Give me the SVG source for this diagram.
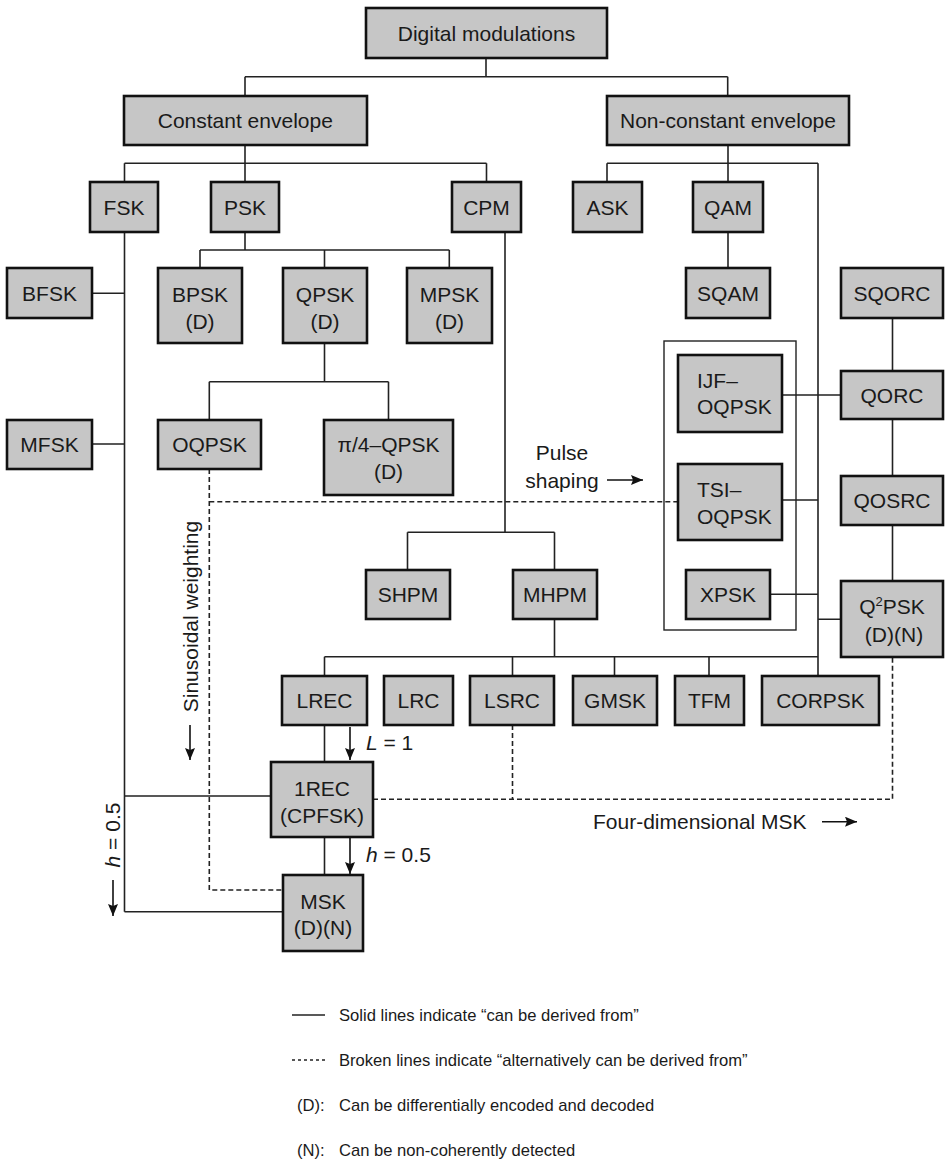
<svg xmlns="http://www.w3.org/2000/svg" width="947" height="1162" viewBox="0 0 947 1162">
<style>
  .box { fill: #c6c6c6; stroke: #111; stroke-width: 2.6; }
  .t { font-family: "Liberation Sans", Arial, sans-serif; font-size: 21px; fill: #1a1a1a; text-anchor: middle; }
  .tl { font-family: "Liberation Sans", Arial, sans-serif; font-size: 21px; fill: #1a1a1a; }
  .lg { font-family: "Liberation Sans", Arial, sans-serif; font-size: 16.6px; fill: #1a1a1a; }
  .ln { fill: none; stroke: #222; stroke-width: 1.6; }
  .dash { fill: none; stroke: #222; stroke-width: 1.6; stroke-dasharray: 5 3; }
  .arr { fill: none; stroke: #111; stroke-width: 1.6; marker-end: url(#ah); }
</style>
<defs>
  <marker id="ah" viewBox="0 0 12 10" refX="12" refY="5" markerWidth="12" markerHeight="10" markerUnits="userSpaceOnUse" orient="auto">
    <path d="M0,0 L12,5 L0,10 L2,5 z" fill="#111"/>
  </marker>
</defs>
<rect width="947" height="1162" fill="#fff"/>

<g id="connectors">
  <path class="ln" d="M486,58 V76.7 M245,76.7 H727.7 M245,76.7 V96 M727.7,76.7 V96"/>
  <path class="ln" d="M245,145 V163.3 M124.5,163.3 H486.5 M124.5,163.3 V182 M245,163.3 V182 M486.5,163.3 V182"/>
  <path class="ln" d="M728,145 V163.3 M607,163.3 H818 M607,163.3 V182 M728,163.3 V182 M818,163.3 V676"/>
  <path class="ln" d="M728,232 V268"/>
  <path class="ln" d="M124.5,232 V911.7 M92,293.3 H124.5 M92,444 H124.5 M124.5,796 H271 M124.5,911.7 H283"/>
  <path class="ln" d="M245,232 V250 M200,250 H449.3 M200,250 V268 M324.5,250 V268 M449.3,250 V268"/>
  <path class="ln" d="M324.5,343 V381.7 M209.3,381.7 H388.5 M209.3,381.7 V420 M388.5,381.7 V420"/>
  <path class="ln" d="M505,232 V532.3 M407.5,532.3 H554.5 M407.5,532.3 V570 M554.5,532.3 V570"/>
  <path class="ln" d="M892.5,318 V371 M892.5,419 V476 M892.5,525 V581"/>
  <path class="ln" d="M782,395 H841 M782,500 H818 M770,594.3 H818 M818,619.3 H841"/>
  <path class="ln" d="M554.5,619 V656.7 M324.5,656.7 H818 M324.5,656.7 V676 M512.5,656.7 V676 M614.5,656.7 V676 M709,656.7 V676"/>
  <path class="ln" d="M324.5,725 V762 M324.5,837 V875"/>
  <path class="dash" d="M209.3,469 V890 H283"/>
  <path class="dash" d="M209.3,501.7 H678"/>
  <path class="dash" d="M512.5,725 V799.3"/>
  <path class="dash" d="M373,799.3 H892.5 V657"/>
  <path class="arr" d="M350,727 V760"/>
  <path class="arr" d="M350,838 V874"/>
  <path class="arr" d="M190,725 V760"/>
  <path class="arr" d="M113,880 V916"/>
  <path class="arr" d="M607,480 H643"/>
  <path class="arr" d="M822,821.7 H857"/>
</g>

<g id="pulse-shaping-group">
  <rect x="664" y="341" width="132" height="289" fill="none" stroke="#222" stroke-width="1.4"/>
</g>

<g id="dm"><rect class="box" x="366" y="8" width="241" height="50"/><text class="t" x="486.5" y="40.5">Digital modulations</text></g>
<g id="ce"><rect class="box" x="124" y="96" width="243" height="49"/><text class="t" x="245.3" y="128">Constant envelope</text></g>
<g id="nce"><rect class="box" x="607" y="96" width="242" height="49"/><text class="t" x="728" y="128">Non-constant envelope</text></g>
<g id="fsk"><rect class="box" x="90" y="182" width="68" height="50"/><text class="t" x="124" y="214.5">FSK</text></g>
<g id="psk"><rect class="box" x="211" y="182" width="68" height="50"/><text class="t" x="245" y="214.5">PSK</text></g>
<g id="cpm"><rect class="box" x="452" y="182" width="69" height="50"/><text class="t" x="486.5" y="214.5">CPM</text></g>
<g id="ask"><rect class="box" x="573" y="182" width="69" height="50"/><text class="t" x="607.5" y="214.5">ASK</text></g>
<g id="qam"><rect class="box" x="693" y="182" width="70" height="50"/><text class="t" x="728" y="214.5">QAM</text></g>
<g id="bfsk"><rect class="box" x="7" y="268" width="85" height="50"/><text class="t" x="49.5" y="300.5">BFSK</text></g>
<g id="bpsk"><rect class="box" x="158" y="268" width="84" height="75"/><text class="t" x="200" y="301.5">BPSK</text><text class="t" x="200" y="329">(D)</text></g>
<g id="qpsk"><rect class="box" x="283" y="268" width="84" height="75"/><text class="t" x="325" y="301.5">QPSK</text><text class="t" x="325" y="329">(D)</text></g>
<g id="mpsk"><rect class="box" x="407" y="268" width="85" height="75"/><text class="t" x="449.5" y="301.5">MPSK</text><text class="t" x="449.5" y="329">(D)</text></g>
<g id="sqam"><rect class="box" x="686" y="268" width="84" height="50"/><text class="t" x="728" y="300.5">SQAM</text></g>
<g id="sqorc"><rect class="box" x="841" y="268" width="102" height="50"/><text class="t" x="892" y="300.5">SQORC</text></g>
<g id="mfsk"><rect class="box" x="7" y="420" width="85" height="49"/><text class="t" x="49.5" y="452">MFSK</text></g>
<g id="oqpsk"><rect class="box" x="158" y="420" width="103" height="49"/><text class="t" x="209.5" y="452">OQPSK</text></g>
<g id="pi4qpsk"><rect class="box" x="324" y="420" width="129" height="75"/><text class="t" x="388.5" y="451.5">π/4–QPSK</text><text class="t" x="388.5" y="479">(D)</text></g>
<g id="ijfoqpsk"><rect class="box" x="678" y="355" width="104" height="77"/><text class="tl" x="697" y="387.5">IJF–</text><text class="tl" x="697" y="414">OQPSK</text></g>
<g id="qorc"><rect class="box" x="841" y="371" width="102" height="48"/><text class="t" x="892" y="402.5">QORC</text></g>
<g id="tsioqpsk"><rect class="box" x="678" y="464" width="104" height="76"/><text class="tl" x="697" y="496.5">TSI–</text><text class="tl" x="697" y="523.5">OQPSK</text></g>
<g id="qosrc"><rect class="box" x="841" y="476" width="102" height="49"/><text class="t" x="892" y="508">QOSRC</text></g>
<g id="shpm"><rect class="box" x="366" y="570" width="84" height="49"/><text class="t" x="408" y="602">SHPM</text></g>
<g id="mhpm"><rect class="box" x="513" y="570" width="84" height="49"/><text class="t" x="555" y="602">MHPM</text></g>
<g id="xpsk"><rect class="box" x="686" y="570" width="84" height="49"/><text class="t" x="728" y="602">XPSK</text></g>
<g id="q2psk"><rect class="box" x="841" y="581" width="102" height="76"/><text class="t" x="892" y="614">Q<tspan font-size="13" dy="-8">2</tspan><tspan dy="8">PSK</tspan></text><text class="t" x="894" y="641.5">(D)(N)</text></g>
<g id="lrec"><rect class="box" x="282" y="676" width="85" height="49"/><text class="t" x="324.5" y="708">LREC</text></g>
<g id="lrc"><rect class="box" x="384" y="676" width="69" height="49"/><text class="t" x="418.5" y="708">LRC</text></g>
<g id="lsrc"><rect class="box" x="470" y="676" width="84" height="49"/><text class="t" x="512" y="708">LSRC</text></g>
<g id="gmsk"><rect class="box" x="573" y="676" width="84" height="49"/><text class="t" x="615" y="708">GMSK</text></g>
<g id="tfm"><rect class="box" x="675" y="676" width="69" height="49"/><text class="t" x="709.5" y="708">TFM</text></g>
<g id="corpsk"><rect class="box" x="762" y="676" width="117" height="49"/><text class="t" x="820.5" y="708">CORPSK</text></g>
<g id="rec1"><rect class="box" x="271" y="762" width="102" height="75"/><text class="t" x="322" y="796">1REC</text><text class="t" x="322" y="822.5">(CPFSK)</text></g>
<g id="msk"><rect class="box" x="283" y="875" width="80" height="76"/><text class="t" x="323" y="908.5">MSK</text><text class="t" x="323" y="935">(D)(N)</text></g>

<g id="labels">
  <text class="t" x="562" y="460">Pulse</text>
  <text class="t" x="562" y="487.5">shaping</text>
  <text class="tl" x="593" y="829">Four-dimensional MSK</text>
  <text class="tl" x="366" y="750"><tspan font-style="italic">L</tspan> = 1</text>
  <text class="tl" x="366" y="862"><tspan font-style="italic">h</tspan> = 0.5</text>
  <text class="t" transform="translate(197.5,616.5) rotate(-90)">Sinusoidal weighting</text>
  <text class="t" transform="translate(120,835) rotate(-90)"><tspan font-style="italic">h</tspan> = 0.5</text>
</g>

<g id="legend">
  <path d="M292,1015 H325" stroke="#222" stroke-width="1.3" fill="none"/>
  <path d="M292,1060 H325" stroke="#222" stroke-width="1.3" fill="none" stroke-dasharray="3 3"/>
  <text class="lg" x="339" y="1021">Solid lines indicate “can be derived from”</text>
  <text class="lg" x="339" y="1066">Broken lines indicate “alternatively can be derived from”</text>
  <text class="lg" x="297" y="1111">(D):</text>
  <text class="lg" x="339" y="1111">Can be differentially encoded and decoded</text>
  <text class="lg" x="297" y="1156">(N):</text>
  <text class="lg" x="339" y="1156">Can be non-coherently detected</text>
</g>
</svg>
